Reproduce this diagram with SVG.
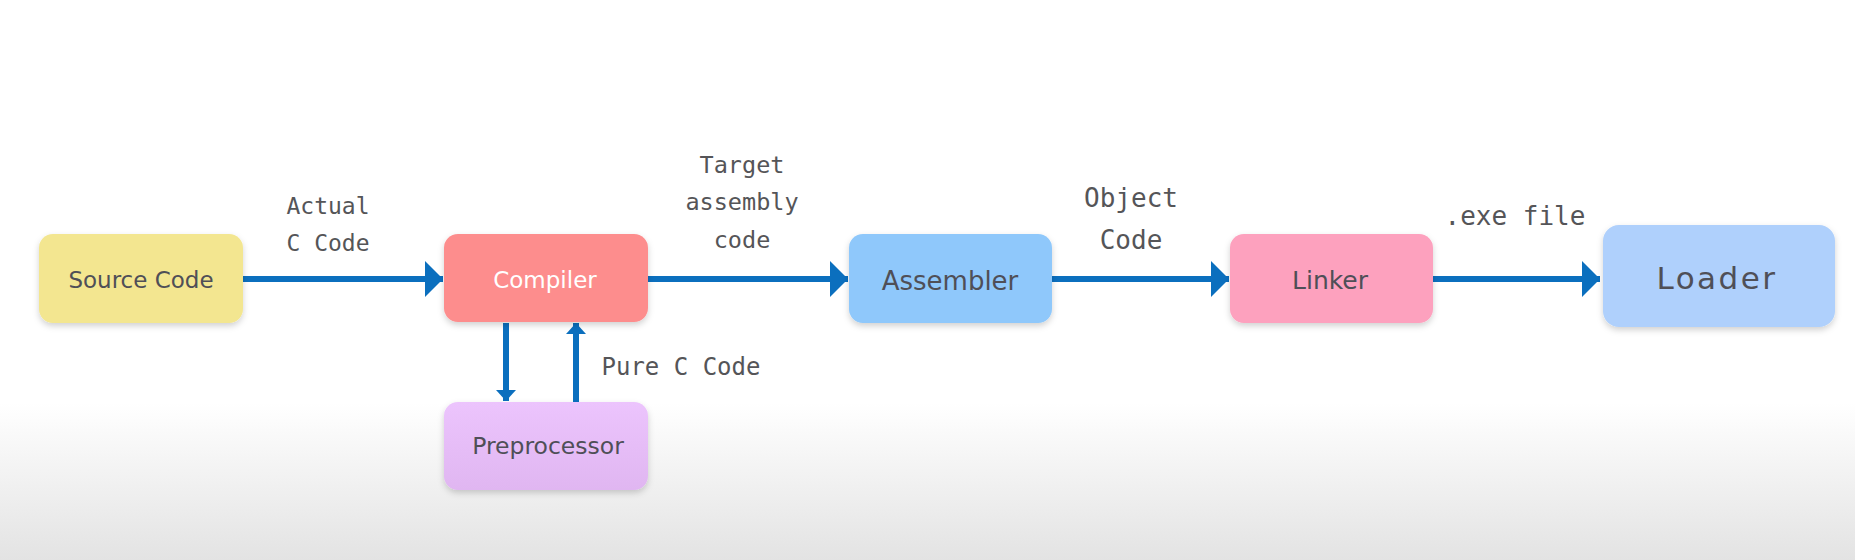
<svg xmlns="http://www.w3.org/2000/svg" width="1855" height="560" viewBox="0 0 1855 560">
<defs>
<linearGradient id="bg" x1="0" y1="0" x2="0" y2="1">
<stop offset="0" stop-color="#ffffff"/>
<stop offset="0.72" stop-color="#ffffff"/>
<stop offset="1" stop-color="#e3e3e3"/>
</linearGradient>
<linearGradient id="pre" x1="0" y1="0" x2="0" y2="1">
<stop offset="0" stop-color="#ecc4fd"/>
<stop offset="1" stop-color="#e0b6f1"/>
</linearGradient>
<filter id="sh" x="-10%" y="-10%" width="120%" height="130%">
<feDropShadow dx="0" dy="3" stdDeviation="3" flood-color="#000" flood-opacity="0.18"/>
</filter>
<marker id="ah" viewBox="0 0 18 36" refX="18" refY="18" markerWidth="18" markerHeight="36" markerUnits="userSpaceOnUse" orient="auto">
<path d="M0,0 L18,18 L0,36 Z" fill="#0b6fbe"/>
</marker>
<marker id="ahs" viewBox="0 0 11 20" refX="11" refY="10" markerWidth="11" markerHeight="20" markerUnits="userSpaceOnUse" orient="auto">
<path d="M0,0 L11,10 L0,20 Z" fill="#0b6fbe"/>
</marker>
</defs>
<style>
.box{filter:url(#sh);}
.nt{font-family:"DejaVu Sans",Verdana,sans-serif;fill:#4f4f57;text-anchor:middle;}
.lbl{font-family:"DejaVu Sans Mono","Liberation Mono",monospace;fill:#555558;text-anchor:middle;}
.ln{stroke:#0b6fbe;stroke-width:6;fill:none;}
</style>
<rect x="0" y="0" width="1855" height="560" fill="url(#bg)"/>

<g id="connectors">
<line class="ln" x1="243" y1="279" x2="443" y2="279" marker-end="url(#ah)"/>
<line class="ln" x1="648" y1="279" x2="848" y2="279" marker-end="url(#ah)"/>
<line class="ln" x1="1052" y1="279" x2="1229" y2="279" marker-end="url(#ah)"/>
<line class="ln" x1="1433" y1="279" x2="1600" y2="279" marker-end="url(#ah)"/>
<line class="ln" x1="506" y1="323" x2="506" y2="401" marker-end="url(#ahs)"/>
<line class="ln" x1="576" y1="402" x2="576" y2="323" marker-end="url(#ahs)"/>
<text class="lbl" x="328" y="214" font-size="23">Actual</text>
<text class="lbl" x="328" y="251" font-size="23">C Code</text>
<text class="lbl" x="742" y="173" font-size="23.5">Target</text>
<text class="lbl" x="742" y="210" font-size="23.5">assembly</text>
<text class="lbl" x="742" y="248" font-size="23.5">code</text>
<text class="lbl" x="1131" y="207" font-size="26">Object</text>
<text class="lbl" x="1131" y="249" font-size="26">Code</text>
<text class="lbl" x="1515" y="225" font-size="26">.exe file</text>
<text class="lbl" x="681" y="375" font-size="24">Pure C Code</text>
</g>

<g id="source">
<rect class="box" x="39" y="234" width="204" height="89" rx="14" fill="#f3e690"/>
<text class="nt" x="141" y="288" font-size="23">Source Code</text>
</g>
<g id="compiler">
<rect class="box" x="444" y="234" width="204" height="88" rx="14" fill="#fd8d8d"/>
<text class="nt" x="545" y="288" font-size="23" style="fill:#ffffff">Compiler</text>
</g>
<g id="preprocessor">
<rect class="box" x="444" y="402" width="204" height="88" rx="14" fill="url(#pre)"/>
<text class="nt" x="548" y="454" font-size="23.5">Preprocessor</text>
</g>
<g id="assembler">
<rect class="box" x="849" y="234" width="203" height="89" rx="14" fill="#8fc8fb"/>
<text class="nt" x="950" y="290" font-size="26">Assembler</text>
</g>
<g id="linker">
<rect class="box" x="1230" y="234" width="203" height="89" rx="14" fill="#fda1be"/>
<text class="nt" x="1330" y="289" font-size="25">Linker</text>
</g>
<g id="loader">
<rect class="box" x="1603" y="225" width="232" height="102" rx="16" fill="#afd0fc"/>
<text class="nt" x="1717" y="289" font-size="31" letter-spacing="2.5">Loader</text>
</g>
</svg>
